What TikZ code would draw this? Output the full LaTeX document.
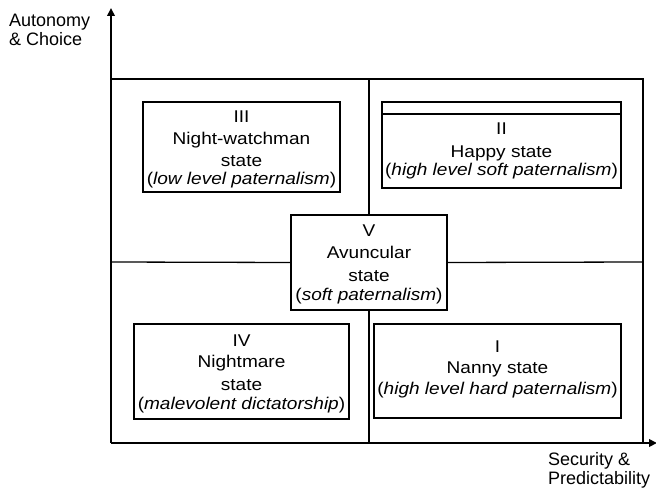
\documentclass[tikz,border=0pt]{standalone}
\usepackage{fontspec}
\setmainfont{Liberation Sans}
\newfontfamily\widefont{Liberation Sans}[FakeStretch=1.12]
\usetikzlibrary{arrows.meta}
\begin{document}
\begin{tikzpicture}[x=1pt,y=-1pt]
    % Node styles
    \tikzstyle{state_box} = [rectangle, draw, line width=1.8pt, inner sep=0pt, outer sep=0pt, align=center, font=\widefont\fontsize{17}{22}\selectfont]
    \tikzstyle{axis_label} = [align=left, inner sep=0pt, font=\fontsize{18}{20}\selectfont]
    \tikzstyle{frame_line} = [line width=1.3pt]
    \tikzstyle{axis_line} = [line width=2pt, -{Triangle[length=8pt, width=7.5pt]}]
    \useasboundingbox (0,0) rectangle (656,489);

    % Axes and frame corners
    \coordinate (O) at (111,443);
    \coordinate (ytop) at (111,8);
    \coordinate (xend) at (657,443);
    \coordinate (tl) at (111,79);
    \coordinate (tr) at (643,79);
    \coordinate (br) at (643,443);
    \coordinate (vtop) at (369,79);
    \coordinate (vbot) at (369,443);
    \coordinate (hleft) at (111,262);
    \coordinate (hright) at (643,262);

    % Nodes
    \node[state_box, minimum width=197, minimum height=90] (III) at (241.5,147)
        {\rule{0pt}{17pt}III\\Night-watchman\\state\\[-4pt](\textit{low level paternalism})};
    \node[state_box, minimum width=239, minimum height=86] (II) at (501.5,145)
        {\rule{0pt}{24pt}II\\[1pt]Happy state\\[-4.5pt](\textit{high level soft paternalism})};
    \node[state_box, minimum width=156, minimum height=95] (V) at (369,262.5)
        {\rule{0pt}{16pt}V\\Avuncular\\[1pt]state\\[-3.5pt](\textit{soft paternalism})};
    \node[state_box, minimum width=215, minimum height=95] (IV) at (241.5,371.5)
        {\rule{0pt}{16.2pt}IV\\[-1pt]Nightmare\\[1pt]state\\[-2.5pt](\textit{malevolent dictatorship})};
    \node[state_box, minimum width=247, minimum height=94] (I) at (497.5,371)
        {I\\[-1pt]Nanny state\\[-1pt](\textit{high level hard paternalism})\rule[-6pt]{0pt}{6pt}};

    % Axis labels
    \node[axis_label, anchor=north west] (ylab) at (9,14) {Autonomy\\[-1.5pt]\& Choice};
    \node[axis_label, anchor=north west] (xlab) at (548,452) {Security \&\\[-1pt]Predictability};

    % Frame and dividers
    \draw[frame_line] (tl) -- (tr) -- (br);
    \draw[frame_line] (vtop) -- (V.north);
    \draw[frame_line] (V.south) -- (vbot);
    \draw[frame_line] (hleft) -- (V.west);
    \draw[frame_line] (V.east) -- (hright);
    \draw[line width=1.8pt] ([yshift=-12]II.north west) -- ([yshift=-12]II.north east);

    % Arrows
    \draw[axis_line] (O) -- (ytop);
    \draw[axis_line] (O) -- (xend);
\end{tikzpicture}
\end{document}
